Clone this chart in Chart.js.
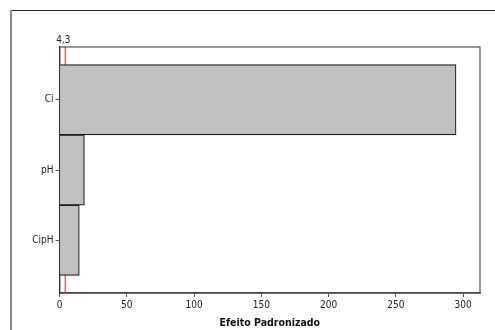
<!DOCTYPE html>
<html>
<head>
<meta charset="utf-8">
<script src="https://cdn.jsdelivr.net/npm/chart.js@4/dist/chart.umd.min.js"></script>
<style>
  html, body { margin: 0; padding: 0; background: #fff; }
  canvas { display: block; }
</style>
</head>
<body>
<canvas id="pareto" width="495" height="330"></canvas>
<script>
// Pareto of standardized effects
const terms = ['Ci', 'pH', 'CipH'];
const effects = [294.8, 18.5, 14.7];
const refValue = 4.3;
const refLabel = '4,3';
const xTicks = [0, 50, 100, 150, 200, 250, 300];

const FONT = '"DejaVu Sans Condensed", "DejaVu Sans", sans-serif';

// y positions 1..n so the bars can touch (linear index axis)
const points = terms.map((t, i) => ({ x: effects[i], y: i + 1 }));

const frames = {
    id: 'frames',
    beforeDatasetsDraw(chart) {
        const { ctx, chartArea: a, scales } = chart;
        const rx = scales.x.getPixelForValue(refValue);
        ctx.save();
        ctx.strokeStyle = '#e06a6a';
        ctx.lineWidth = 1.5;
        ctx.beginPath();
        ctx.moveTo(rx, a.top);
        ctx.lineTo(rx, a.bottom);
        ctx.stroke();
        ctx.restore();
    },
    afterDraw(chart) {
        const { ctx, chartArea: a, scales } = chart;
        ctx.save();
        // plot frame
        ctx.strokeStyle = '#333';
        ctx.lineWidth = 1;
        ctx.strokeRect(a.left, a.top, a.right - a.left, a.bottom - a.top);
        // outer page frame (runs past the right and bottom edges)
        ctx.strokeStyle = '#222';
        ctx.lineWidth = 1.2;
        ctx.beginPath();
        ctx.moveTo(11, 10.5);
        ctx.lineTo(500, 10.5);
        ctx.stroke();
        ctx.strokeStyle = '#888';
        ctx.lineWidth = 2;
        ctx.beginPath();
        ctx.moveTo(11, 10);
        ctx.lineTo(11, 335);
        ctx.stroke();
        // reference label
        ctx.fillStyle = '#222';
        ctx.font = '10px ' + FONT;
        ctx.textAlign = 'center';
        ctx.textBaseline = 'bottom';
        ctx.fillText(refLabel, scales.x.getPixelForValue(refValue) - 2, a.top - 2);
        ctx.restore();
    }
};

new Chart(document.getElementById('pareto'), {
    type: 'bar',
    data: {
        datasets: [{
            data: points,
            backgroundColor: '#c0c0c0',
            borderColor: '#1a1a1a',
            borderWidth: 1.2,
            barPercentage: 1,
            categoryPercentage: 1
        }]
    },
    options: {
        indexAxis: 'y',
        responsive: false,
        animation: false,
        layout: { padding: { left: 0, top: 47, right: 15, bottom: 0 } },
        plugins: { legend: { display: false }, tooltip: { enabled: false } },
        scales: {
            x: {
                type: 'linear',
                min: 0,
                max: 312.6,
                border: { display: true, color: '#555', width: 1.5 },
                grid: { drawOnChartArea: false, drawTicks: true, tickLength: 4, color: '#555' },
                afterBuildTicks: (s) => { s.ticks = xTicks.map(v => ({ value: v })); },
                afterFit: (s) => { s.height = 37; },
                ticks: { color: '#222', padding: 2, font: { family: FONT, size: 10 } },
                title: {
                    display: true,
                    text: 'Efeito Padronizado',
                    color: '#111',
                    padding: { top: 1, bottom: 0 },
                    font: { family: FONT, size: 10.5, weight: 'bold' }
                }
            },
            y: {
                type: 'linear',
                reverse: true,
                offset: false,
                min: 0.25,
                max: 3.75,
                border: { display: true, color: '#555', width: 1.5 },
                grid: { offset: false, drawOnChartArea: false, drawTicks: true, tickLength: 4, color: '#555' },
                afterBuildTicks: (s) => { s.ticks = terms.map((t, i) => ({ value: i + 1 })); },
                afterFit: (s) => { s.width = 59.5; },
                ticks: {
                    color: '#222',
                    padding: 2,
                    font: { family: FONT, size: 10 },
                    callback: (v) => terms[v - 1]
                }
            }
        }
    },
    plugins: [frames]
});
</script>
</body>
</html>
